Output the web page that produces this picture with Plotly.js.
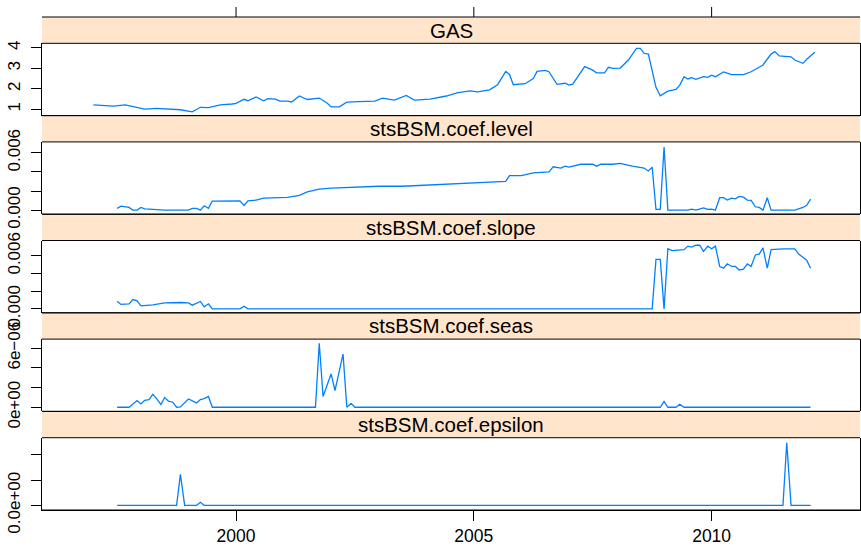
<!DOCTYPE html>
<html>
<head>
<meta charset="utf-8">
<script src="https://cdn.plot.ly/plotly-3.0.1.min.js"></script>
<style>
  html, body { margin: 0; padding: 0; background: #ffffff; }
  #chart { width: 861px; height: 546px; }
</style>
</head>
<body>
<div id="chart"></div>
<script>
// Panel names, top to bottom
const panelNames = ["GAS", "stsBSM.coef.level", "stsBSM.coef.slope", "stsBSM.coef.seas", "stsBSM.coef.epsilon"];

// Shared time axis ticks
const xTicks = [2000, 2005, 2010];
const xTickText = ["2000", "2005", "2010"];

// GAS series (decimal year, value)
const gasT = [1997.00, 1997.17, 1997.42, 1997.67, 1997.83, 1998.08, 1998.33, 1998.50, 1998.83, 1999.08,
              1999.25, 1999.42, 1999.67, 1999.92, 2000.00, 2000.17, 2000.25, 2000.42, 2000.58, 2000.67,
              2000.83, 2000.92, 2001.08, 2001.17, 2001.33, 2001.50, 2001.75, 2001.92, 2002.00, 2002.17,
              2002.33, 2002.58, 2002.92, 2003.08, 2003.33, 2003.58, 2003.75, 2004.08, 2004.42, 2004.67,
              2004.92, 2005.08, 2005.33, 2005.50, 2005.67, 2005.75, 2005.83, 2006.08, 2006.25, 2006.33,
              2006.50, 2006.58, 2006.75, 2006.92, 2007.00, 2007.08, 2007.33, 2007.50, 2007.58, 2007.75,
              2007.83, 2007.92, 2008.08, 2008.25, 2008.42, 2008.50, 2008.58, 2008.67, 2008.83, 2008.92,
              2009.08, 2009.25, 2009.33, 2009.42, 2009.50, 2009.58, 2009.67, 2009.83, 2009.92, 2010.00,
              2010.08, 2010.25, 2010.42, 2010.67, 2010.83, 2011.08, 2011.25, 2011.33, 2011.42, 2011.67,
              2011.75, 2011.92, 2012.00, 2012.17];
const gasV = [1.22, 1.19, 1.16, 1.22, 1.15, 1.01, 1.05, 1.03, 0.98, 0.88,
              1.10, 1.08, 1.22, 1.26, 1.29, 1.49, 1.42, 1.60, 1.42, 1.52,
              1.50, 1.40, 1.40, 1.36, 1.65, 1.48, 1.55, 1.30, 1.12, 1.12,
              1.35, 1.38, 1.40, 1.55, 1.45, 1.68, 1.45, 1.50, 1.65, 1.82,
              1.90, 1.85, 1.95, 2.20, 2.85, 2.70, 2.20, 2.25, 2.50, 2.85,
              2.90, 2.83, 2.22, 2.27, 2.18, 2.23, 3.08, 2.91, 2.78, 2.78,
              3.05, 3.00, 3.01, 3.40, 3.97, 3.97, 3.73, 3.69, 2.07, 1.66,
              1.89, 1.97, 2.18, 2.59, 2.48, 2.54, 2.46, 2.59, 2.56, 2.66,
              2.59, 2.82, 2.69, 2.69, 2.83, 3.16, 3.69, 3.81, 3.60, 3.56,
              3.40, 3.24, 3.44, 3.78];

// Level coefficient
const levelT = [1997.50, 1997.58, 1997.75, 1997.83, 1997.92, 1998.00, 1998.08, 1998.50, 1999.00, 1999.08,
                1999.17, 1999.25, 1999.33, 1999.42, 1999.50, 1999.67, 2000.08, 2000.17, 2000.25, 2000.42,
                2000.58, 2001.08, 2001.33, 2001.50, 2001.75, 2002.00, 2002.50, 2003.00, 2003.50, 2004.00,
                2004.50, 2005.00, 2005.50, 2005.67, 2005.75, 2006.00, 2006.25, 2006.50, 2006.58, 2006.67,
                2006.83, 2006.92, 2007.00, 2007.25, 2007.50, 2007.58, 2007.67, 2007.92, 2008.08, 2008.33,
                2008.42, 2008.58, 2008.67, 2008.75, 2008.83, 2008.92, 2009.00, 2009.08, 2009.50, 2009.58,
                2009.67, 2009.83, 2009.92, 2010.00, 2010.08, 2010.17, 2010.25, 2010.33, 2010.42, 2010.50,
                2010.58, 2010.67, 2010.75, 2010.83, 2010.92, 2011.00, 2011.08, 2011.17, 2011.25, 2011.75,
                2011.92, 2012.00, 2012.08];
const levelV = [0.00018, 0.00042, 0.00028, 0.00000, 0.00000, 0.00028, 0.00014, 0.00000, 0.00000, 0.00018,
                0.00018, 0.00000, 0.00045, 0.00018, 0.00094, 0.00097, 0.00097, 0.00049, 0.00097, 0.00105,
                0.00126, 0.00133, 0.00154, 0.00190, 0.00220, 0.00230, 0.00240, 0.00250, 0.00250, 0.00260,
                0.00270, 0.00280, 0.00290, 0.00300, 0.00360, 0.00360, 0.00390, 0.00400, 0.00400, 0.00453,
                0.00440, 0.00460, 0.00450, 0.00480, 0.00480, 0.00460, 0.00480, 0.00480, 0.00490, 0.00460,
                0.00450, 0.00440, 0.00410, 0.00450, 0.00007, 0.00007, 0.00660, 0.00000, 0.00000, 0.00010,
                0.00000, 0.00024, 0.00007, 0.00010, 0.00000, 0.00130, 0.00130, 0.00105, 0.00126, 0.00118,
                0.00143, 0.00136, 0.00105, 0.00101, 0.00035, 0.00028, 0.00000, 0.00130, 0.00000, 0.00000,
                0.00028, 0.00050, 0.00115];

// Slope coefficient
const slopeT = [1997.50, 1997.58, 1997.75, 1997.83, 1997.92, 1998.00, 1998.25, 1998.50, 1998.83, 1999.00,
                1999.08, 1999.25, 1999.33, 1999.42, 1999.50, 2000.08, 2000.17, 2000.25, 2008.75, 2008.83,
                2008.92, 2009.00, 2009.08, 2009.17, 2009.42, 2009.50, 2009.58, 2009.67, 2009.75, 2009.83,
                2009.92, 2010.00, 2010.08, 2010.17, 2010.25, 2010.33, 2010.42, 2010.50, 2010.58, 2010.67,
                2010.75, 2010.83, 2010.92, 2011.00, 2011.08, 2011.17, 2011.25, 2011.50, 2011.75, 2011.83,
                2012.00, 2012.08];
const slopeV = [0.00087, 0.00050, 0.00057, 0.00106, 0.00090, 0.00034, 0.00045, 0.00068, 0.00072, 0.00068,
                0.00042, 0.00084, 0.00023, 0.00057, 0.00000, 0.00000, 0.00030, 0.00000, 0.00000, 0.00560,
                0.00560, 0.00000, 0.00680, 0.00660, 0.00670, 0.00710, 0.00700, 0.00720, 0.00720, 0.00650,
                0.00710, 0.00680, 0.00710, 0.00480, 0.00460, 0.00510, 0.00480, 0.00480, 0.00440, 0.00450,
                0.00510, 0.00480, 0.00610, 0.00620, 0.00690, 0.00460, 0.00670, 0.00680, 0.00680, 0.00620,
                0.00550, 0.00460];

// Seasonal coefficient
const seasT = [1997.50, 1997.75, 1997.92, 1998.00, 1998.08, 1998.17, 1998.25, 1998.33, 1998.42, 1998.50,
               1998.58, 1998.67, 1998.75, 1998.83, 1999.00, 1999.17, 1999.25, 1999.33, 1999.42, 1999.50,
               2001.67, 2001.75, 2001.83, 2001.92, 2002.00, 2002.08, 2002.25, 2002.33, 2002.42, 2002.50,
               2008.92, 2009.00, 2009.08, 2009.25, 2009.33, 2009.42, 2012.08];
const seasV = [0, 0, 0.68e-6, 0.34e-6, 0.71e-6, 0.78e-6, 1.32e-6, 0.88e-6, 0.27e-6, 0.99e-6,
               0.61e-6, 0.51e-6, 0, 0.03e-6, 0.84e-6, 0.44e-6, 0.78e-6, 0.88e-6, 1.09e-6, 0,
               0, 6.5e-6, 1.1e-6, 2.3e-6, 3.4e-6, 1.7e-6, 5.4e-6, 0, 0.4e-6, 0,
               0, 0.6e-6, 0, 0, 0.3e-6, 0, 0];

// Irregular (epsilon) coefficient
const epsT = [1997.50, 1998.75, 1998.83, 1998.92, 1999.17, 1999.25, 1999.33, 2011.50, 2011.58, 2011.67, 2012.08];
const epsV = [0, 0, 3.07e-6, 0, 0, 0.3e-6, 0, 0, 6.2e-6, 0, 0];

// Per-panel y ticks and the labels that survive overlap
const yTickVals = [
  [1, 2, 3, 4],
  [0, 0.002, 0.004, 0.006],
  [0, 0.002, 0.004, 0.006],
  [0, 2e-6, 4e-6, 6e-6],
  [0, 2.5e-6, 5e-6]
];
const yTickText = [
  ["1", "2", "3", "4"],
  ["0.000", "", "", "0.006"],
  ["0.000", "", "", "0.006"],
  ["0e+00", "", "", "6e\u221206"],
  ["0.0e+00", "", ""]
];
const yRanges = [
  [0.696, 4.215],
  [-0.000427, 0.007137],
  [-0.000444, 0.007737],
  [-0.423e-6, 6.926e-6],
  [-0.466e-6, 6.70e-6]
];

const seriesT = [gasT, levelT, slopeT, seasT, epsT];
const seriesV = [gasV, levelV, slopeV, seasV, epsV];

// Geometry in pixels
const W = 861, H = 546;
const mL = 42, mR = 1, mT = 17, mB = 36.3;
const plotH = H - mT - mB;
const blockH = plotH / 5;
const stripH = 26.3;
const xRange = [1995.92, 2013.12];

const lineColor = "#0080ff";
const stripFill = "#ffe5cc";
const fontFam = "'Liberation Sans', Arial, Helvetica, sans-serif";

const traces = [];
const shapes = [];
const annotations = [];
const layout = {
  width: W, height: H,
  margin: { l: mL, r: mR, t: mT, b: mB, pad: 0 },
  paper_bgcolor: "#ffffff",
  plot_bgcolor: "#ffffff",
  showlegend: false,
  font: { family: fontFam, color: "#000000", size: 17 },
  xaxis: {
    range: xRange,
    anchor: "y5",
    tickvals: xTicks,
    ticktext: xTickText,
    ticks: "outside",
    ticklen: 10,
    tickwidth: 1,
    tickcolor: "#000000",
    showline: true,
    linecolor: "#000000",
    linewidth: 1,
    mirror: false,
    showgrid: false,
    zeroline: false,
    tickfont: { size: 17.5, family: fontFam, color: "#000000" },
    ticklabelstandoff: 0
  },
  shapes: shapes,
  annotations: annotations
};

function pyToPaper(py) { return (H - mB - py) / plotH; }

for (let i = 0; i < 5; i++) {
  const blockTop = mT + i * blockH;
  const stripBot = blockTop + stripH;
  const panelBot = blockTop + blockH;
  const yName = "y" + (i + 1);
  const yKey = "yaxis" + (i + 1);

  traces.push({
    type: "scatter",
    mode: "lines",
    x: seriesT[i],
    y: seriesV[i],
    xaxis: "x",
    yaxis: yName,
    line: { color: lineColor, width: 1.3 },
    hoverinfo: "skip"
  });

  layout[yKey] = {
    domain: [pyToPaper(panelBot), pyToPaper(stripBot)],
    range: yRanges[i],
    anchor: "x",
    tickvals: yTickVals[i],
    ticktext: yTickText[i],
    tickangle: -90,
    ticks: "outside",
    ticklen: 10,
    tickwidth: 1,
    tickcolor: "#000000",
    showline: true,
    linecolor: "#000000",
    linewidth: 1,
    mirror: true,
    showgrid: false,
    zeroline: false,
    tickfont: { size: 17, family: fontFam, color: "#000000" },
    ticklabelstandoff: 4
  };

  // strip header
  shapes.push({
    type: "rect", xref: "paper", yref: "paper",
    x0: 0, x1: 1, y0: pyToPaper(stripBot), y1: pyToPaper(blockTop),
    fillcolor: stripFill,
    line: { width: 0 },
    layer: "below"
  });
  // strip and panel frame lines, drawn on top
  [blockTop, stripBot, panelBot].forEach(function (py) {
    shapes.push({
      type: "line", xref: "paper", yref: "paper",
      x0: 0, x1: 1, y0: pyToPaper(py), y1: pyToPaper(py),
      line: { color: "#000000", width: 1 }
    });
  });
  annotations.push({
    xref: "paper", yref: "paper",
    x: 0.5, y: pyToPaper(blockTop + stripH / 2),
    xanchor: "center", yanchor: "middle",
    text: panelNames[i],
    showarrow: false,
    font: { size: 20.5, family: fontFam, color: "#000000" }
  });
}

// tick marks along the top edge of the figure frame
const topTickLen = 10 / plotH;
xTicks.forEach(function (t) {
  shapes.push({
    type: "line", xref: "x", yref: "paper",
    x0: t, x1: t, y0: 1, y1: 1 + topTickLen,
    line: { color: "#000000", width: 1 }
  });
});

Plotly.newPlot("chart", traces, layout, { staticPlot: true, displayModeBar: false });
</script>
</body>
</html>
